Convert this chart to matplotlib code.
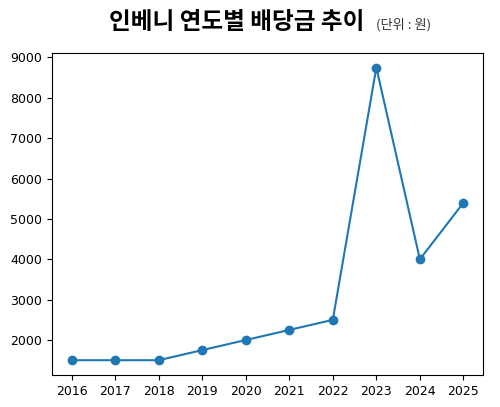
import matplotlib
matplotlib.use('Agg')
import matplotlib.pyplot as plt

plt.rcParams['font.family'] = ['Noto Sans CJK KR', 'DejaVu Sans']

years = [2016, 2017, 2018, 2019, 2020, 2021, 2022, 2023, 2024, 2025]
dividend = [1500, 1500, 1500, 1750, 2000, 2250, 2500, 8750, 4000, 5400]

fig = plt.figure(figsize=(5, 4.07), dpi=100)
ax = fig.add_axes([0.104, 0.079, 0.862, 0.791])
ax.plot(years, dividend, marker='o', color='#1f77b4')
ax.set_xticks(years)
ax.tick_params(labelsize=9)
for lab in ax.get_xticklabels() + ax.get_yticklabels():
    lab.set_family('DejaVu Sans')

fig.text(0.218, 0.946, '인베니 연도별 배당금 추이', fontsize=17, fontweight='bold', ha='left', va='center')
fig.text(0.752, 0.94, '(단위 : 원)', fontsize=9.5, ha='left', va='center', color='#333333')

plt.savefig('out.png', dpi=100)
